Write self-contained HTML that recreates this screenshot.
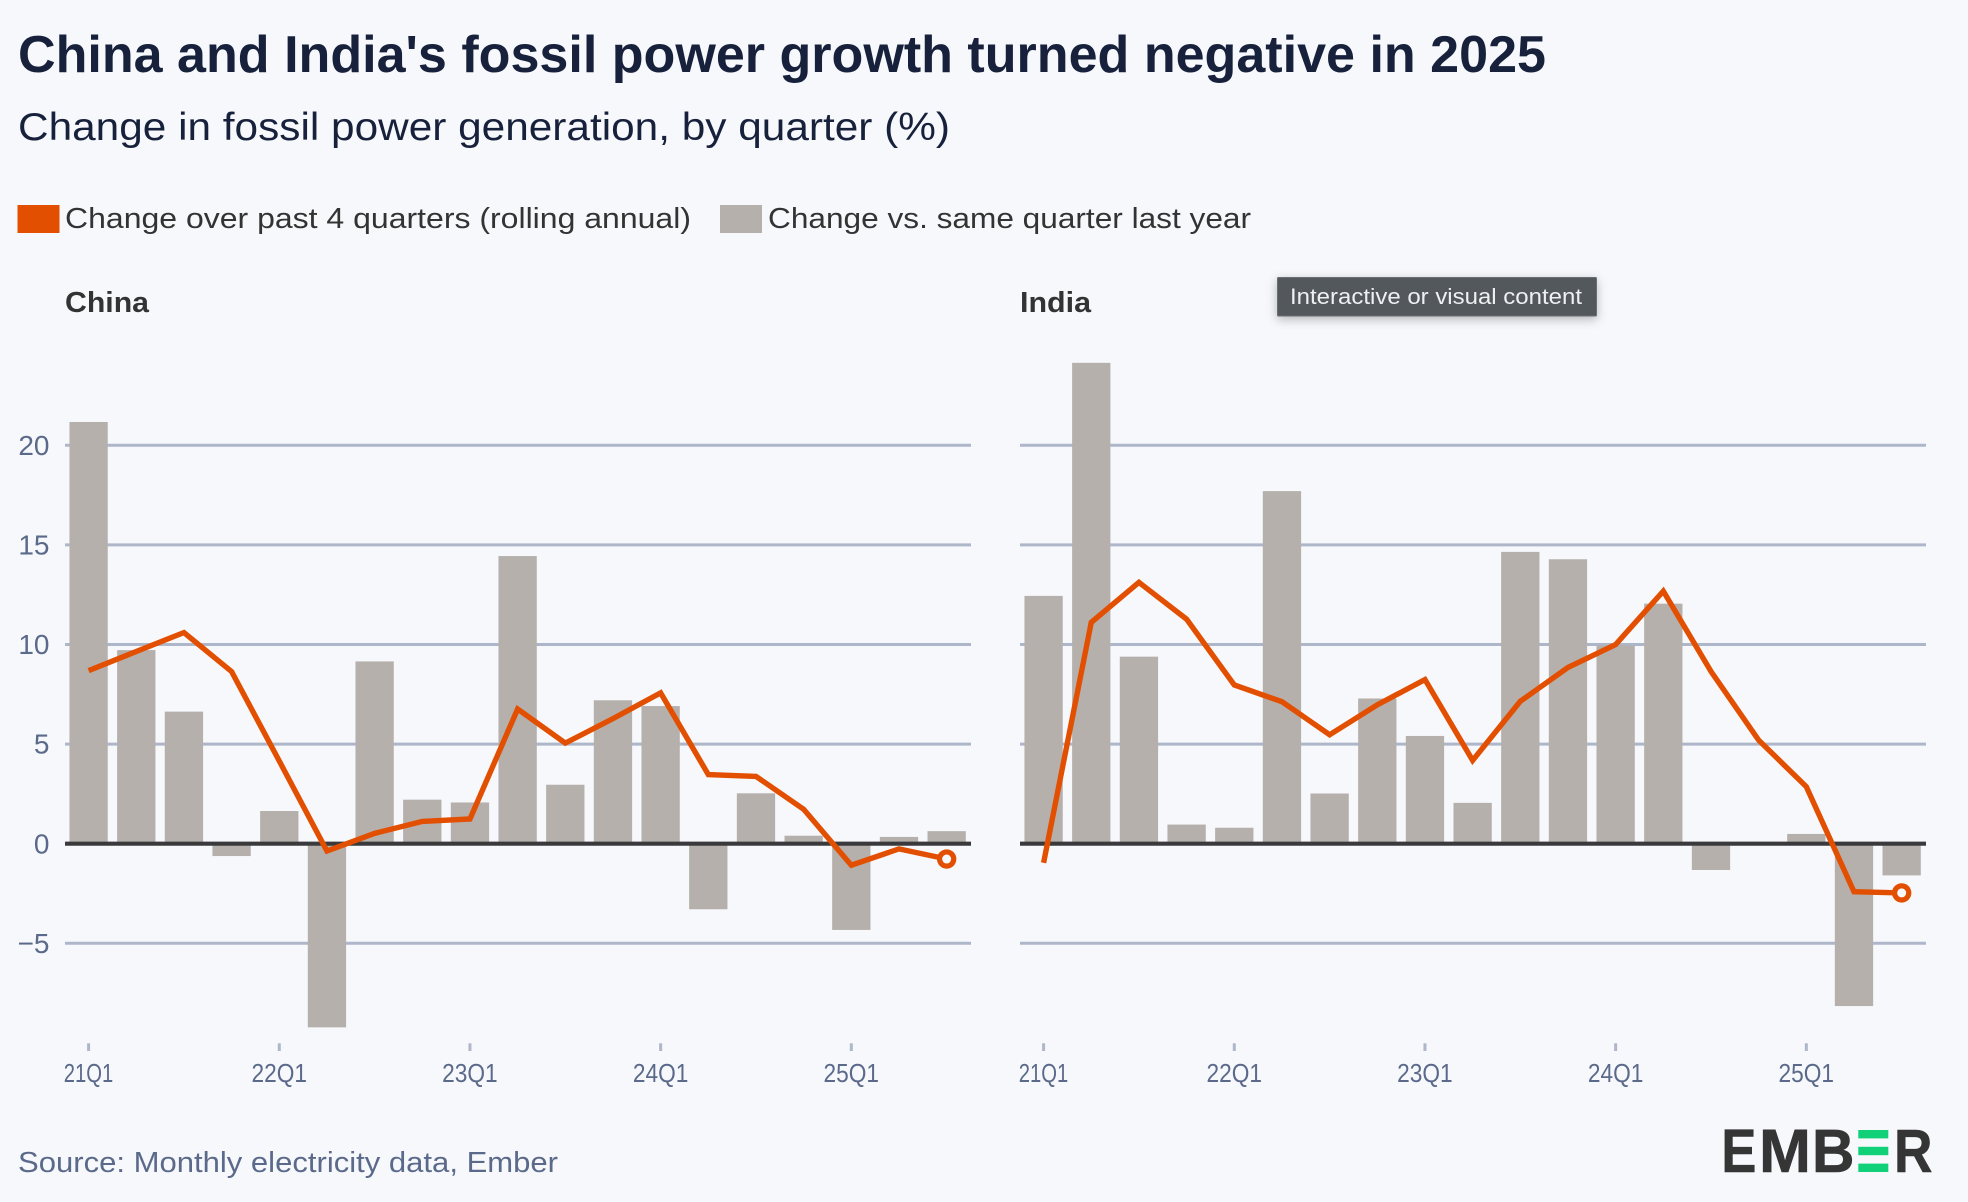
<!DOCTYPE html>
<html lang="en">
<head>
<meta charset="utf-8">
<title>China and India's fossil power growth turned negative in 2025</title>
<style>
  html, body { margin: 0; padding: 0; background: #f6f8fc; }
  body { width: 1968px; height: 1202px; overflow: hidden; font-family: "Liberation Sans", sans-serif; }
  svg { display: block; }
  text { font-family: "Liberation Sans", sans-serif; }
  .tooltip-box { filter: drop-shadow(0 3px 5px rgba(60,60,60,.35)); }
</style>
</head>
<body>
<svg id="chart" xmlns="http://www.w3.org/2000/svg" width="1968" height="1202" viewBox="0 0 1968 1202">
  <rect x="0" y="0" width="1968" height="1202" fill="#f6f8fc"/>
  <text x="18" y="72" font-size="52" font-weight="700" fill="#17213b" textLength="1528" lengthAdjust="spacingAndGlyphs">China and India's fossil power growth turned negative in 2025</text>
  <text x="18" y="140" font-size="39" fill="#17213b" textLength="932" lengthAdjust="spacingAndGlyphs">Change in fossil power generation, by quarter (%)</text>

  <g>
    <rect x="17.5" y="205" width="42" height="28" fill="#e34f00"/>
    <text x="65" y="228" font-size="29" fill="#333333" textLength="626" lengthAdjust="spacingAndGlyphs">Change over past 4 quarters (rolling annual)</text>
    <rect x="720" y="205" width="42" height="28" fill="#b5b0ac"/>
    <text x="768" y="228" font-size="29" fill="#333333" textLength="483" lengthAdjust="spacingAndGlyphs">Change vs. same quarter last year</text>
  </g>

  <text x="65" y="312" font-size="28.5" font-weight="700" fill="#333333" textLength="84" lengthAdjust="spacingAndGlyphs">China</text>
  <text x="1020" y="312" font-size="28.5" font-weight="700" fill="#333333" textLength="71" lengthAdjust="spacingAndGlyphs">India</text>

  <g id="plots"></g>

  <g>
    <rect class="tooltip-box" x="1277.5" y="277.5" width="319" height="38.5" rx="1" fill="#53585c" stroke="#6a6f73" stroke-width="1"/>
    <text x="1290" y="304" font-size="22" fill="#eef0f2" textLength="292" lengthAdjust="spacingAndGlyphs">Interactive or visual content</text>
  </g>

  <text x="18" y="1172" font-size="29" fill="#5b6a8a" textLength="540" lengthAdjust="spacingAndGlyphs">Source: Monthly electricity data, Ember</text>

  <g>
    <title>EMBER</title>
    <text x="1721.4" y="1172" font-size="61" font-weight="700" fill="#353535" stroke="#353535" stroke-width="0.6" textLength="35" lengthAdjust="spacingAndGlyphs">E</text>
    <text x="1759" y="1172" font-size="61" font-weight="700" fill="#353535" stroke="#353535" stroke-width="0.6" textLength="52" lengthAdjust="spacingAndGlyphs">M</text>
    <text x="1812" y="1172" font-size="61" font-weight="700" fill="#353535" stroke="#353535" stroke-width="0.6" textLength="42.5" lengthAdjust="spacingAndGlyphs">B</text>
    <rect x="1858.3" y="1130" width="30" height="8.4" fill="#10d078"/>
    <rect x="1858.3" y="1146.8" width="30" height="8.4" fill="#10d078"/>
    <rect x="1858.3" y="1163.6" width="30" height="8.4" fill="#10d078"/>
    <text x="1894" y="1172" font-size="61" font-weight="700" fill="#353535" stroke="#353535" stroke-width="0.6" textLength="38.5" lengthAdjust="spacingAndGlyphs">R</text>
  </g>
</svg>

<script>
const quarters = ['21Q1','21Q2','21Q3','21Q4','22Q1','22Q2','22Q3','22Q4','23Q1','23Q2','23Q3','23Q4','24Q1','24Q2','24Q3','24Q4','25Q1','25Q2','25Q3'];
const xTickLabels = ['21Q1','22Q1','23Q1','24Q1','25Q1'];
const yTicks = [20, 15, 10, 5, -5];
const chinaQuarterly = [21.17, 9.72, 6.63, -0.62, 1.64, -9.22, 9.15, 2.21, 2.07, 14.44, 2.96, 7.2, 6.91, -3.29, 2.53, 0.4, -4.33, 0.34, 0.63];
const chinaRolling = [8.69, 9.65, 10.6, 8.64, 4.15, -0.37, 0.52, 1.12, 1.24, 6.76, 5.05, 6.28, 7.57, 3.47, 3.38, 1.73, -1.08, -0.26, -0.77];
const indiaQuarterly = [12.44, 24.14, 9.39, 0.96, 0.8, 17.7, 2.52, 7.29, 5.41, 2.05, 14.65, 14.28, 9.95, 12.05, -1.32, 0.03, 0.49, -8.15, -1.59];
const indiaRolling = [-0.96, 11.11, 13.12, 11.27, 7.97, 7.13, 5.47, 6.97, 8.24, 4.18, 7.15, 8.85, 10.0, 12.68, 8.65, 5.2, 2.86, -2.41, -2.47];

const SVG_NS = 'http://www.w3.org/2000/svg';
const plotsRoot = document.getElementById('plots');
const PLOT_WIDTH = 906;
const ZERO_Y = 843.7;
const PX_PER_UNIT = 19.92;
const BAND = 47.67;
const FIRST_OFFSET = 23.6;
const BAR_WIDTH = 38.3;

function yScale(v) { return ZERO_Y - v * PX_PER_UNIT; }
function xScale(left, i) { return left + FIRST_OFFSET + i * BAND; }
function make(tag, attrs, parent) {
  const el = document.createElementNS(SVG_NS, tag);
  Object.keys(attrs).forEach(function (k) { el.setAttribute(k, attrs[k]); });
  parent.appendChild(el);
  return el;
}

function drawPanel(key, left, barValues, lineValues, showYLabels) {
  const panel = make('g', {}, plotsRoot);
  
  

  yTicks.forEach(function (t) {
    const y = yScale(t);
    const grid = make('line', { x1: left, x2: left + PLOT_WIDTH, y1: y, y2: y, stroke: '#aeb6c9', 'stroke-width': 3 }, panel);
    
    
  });

  if (showYLabels) {
    yTicks.concat([0]).forEach(function (t) {
      const label = make('text', { x: 49.5, y: yScale(t) + 9.6, 'font-size': 28, fill: '#5b6a8a', 'text-anchor': 'end' }, panel);
      label.textContent = t < 0 ? '\u2212' + Math.abs(t) : String(t);
      
      
    });
  }

  barValues.forEach(function (v, i) {
    const top = Math.min(yScale(v), ZERO_Y);
    const bar = make('rect', { x: xScale(left, i) - BAR_WIDTH / 2, y: top, width: BAR_WIDTH, height: Math.abs(v) * PX_PER_UNIT, fill: '#b5b0ac' }, panel);
    
    
  });

  const zero = make('line', { x1: left, x2: left + PLOT_WIDTH, y1: ZERO_Y, y2: ZERO_Y, stroke: '#3a3a3c', 'stroke-width': 4.2 }, panel);
  
  

  xTickLabels.forEach(function (q) {
    const x = xScale(left, quarters.indexOf(q));
    const tick = make('line', { x1: x, x2: x, y1: 1043.3, y2: 1051, stroke: '#aeb6c9', 'stroke-width': 3 }, panel);
    
    
    const label = make('text', { x: x - (q === '21Q1' ? 24.8 : 27.8), y: 1082, 'font-size': 26, fill: '#5b6a8a', textLength: q === '21Q1' ? 49.5 : 55.5, lengthAdjust: 'spacingAndGlyphs' }, panel);
    label.textContent = q;
    
    
  });

  const points = lineValues.map(function (v, i) { return xScale(left, i).toFixed(2) + ',' + yScale(v).toFixed(2); }).join(' ');
  const line = make('polyline', { points: points, fill: 'none', stroke: '#e34f00', 'stroke-width': 5.4, 'stroke-linejoin': 'miter', 'stroke-miterlimit': 6 }, panel);
  
  

  const last = lineValues.length - 1;
  const marker = make('circle', { cx: xScale(left, last), cy: yScale(lineValues[last]), r: 7.1, fill: '#f6f8fc', stroke: '#e34f00', 'stroke-width': 5.2 }, panel);
  
  
}

drawPanel('china', 65, chinaQuarterly, chinaRolling, true);
drawPanel('india', 1020, indiaQuarterly, indiaRolling, false);
</script>
</body>
</html>
